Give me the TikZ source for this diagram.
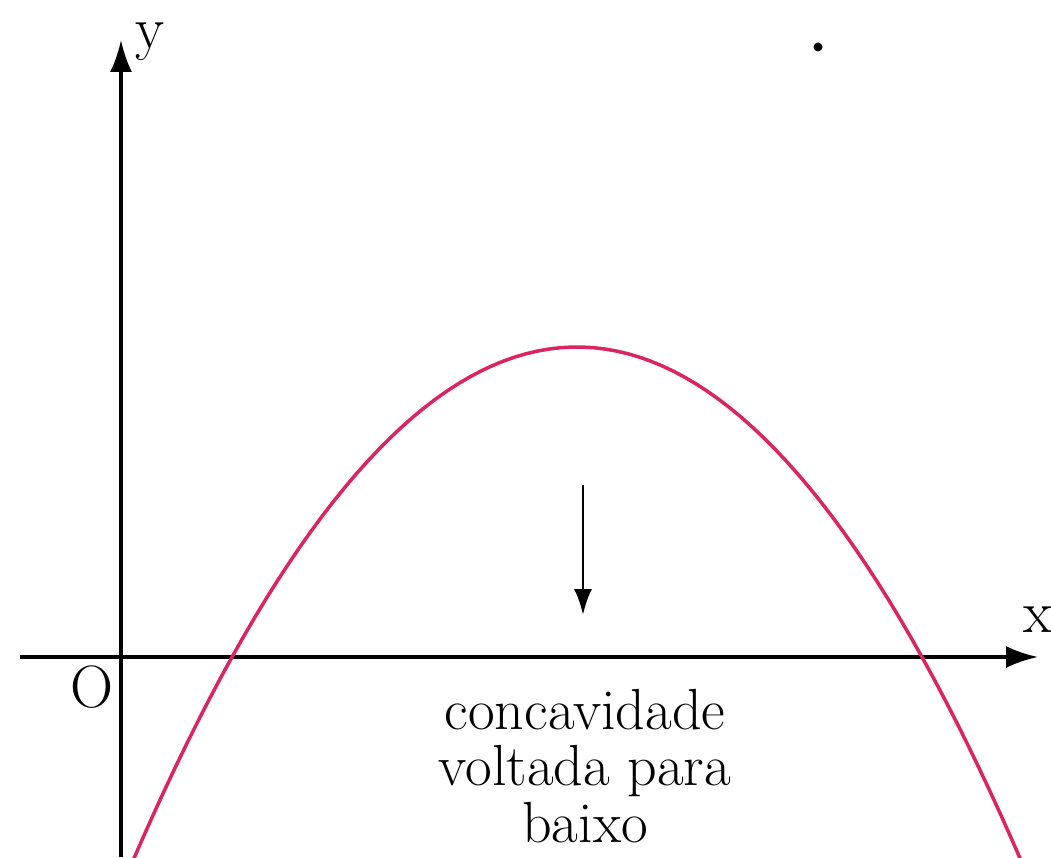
\documentclass[tikz,border=0pt]{standalone}
\usepackage{tikz}
\usetikzlibrary{arrows.meta, positioning}

\definecolor{curvepink}{RGB}{218,36,100}

\begin{document}
\begin{tikzpicture}[
        axis/.style={-{Latex[length=3.2mm, width=2.2mm]}, line width=0.9pt},
        arrow/.style={-{Latex[length=2.6mm, width=1.8mm]}, line width=0.8pt},
        lbl/.style={font=\fontsize{17}{18}\selectfont},
        note/.style={align=center, font=\fontsize{16.5}{16}\selectfont}
    ]
    \useasboundingbox (0,0) rectangle (10.51,8.57);

    % axes
    \coordinate (xstart) at (0.2,2.0);
    \coordinate (xend) at (10.38,2.0);
    \coordinate (ystart) at (1.21,0);
    \coordinate (yend) at (1.21,8.17);
    \draw[axis] (xstart) -- (xend);
    \draw[axis] (ystart) -- (yend);

    \node[lbl] (x) at (10.38,2.37) {x};
    \node[lbl] (y) at (1.5,8.15) {y};
    \node[lbl] (O) at (0.92,1.7) {O};

    % parabola
    \draw[curvepink, line width=1pt, domain=1.3:10.24, samples=80]
        plot (\x, {5.10 - 0.2605*(\x-5.77)*(\x-5.77)});

    \coordinate (top) at (5.83,3.72);
    \coordinate (bottom) at (5.83,2.42);
    \draw[arrow] (top) -- (bottom);

    \node[note] (text) at (5.85,0.91) {concavidade\\voltada para\\baixo};

    \fill (8.18,8.10) circle (0.045);
\end{tikzpicture}
\end{document}
